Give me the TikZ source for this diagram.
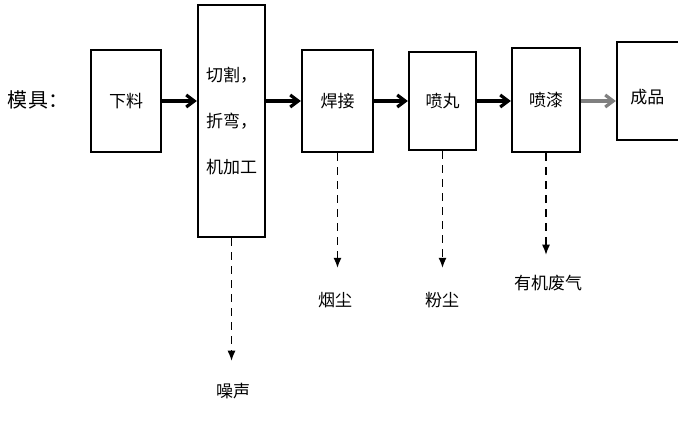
\documentclass[tikz,border=0pt]{standalone}
\usepackage{fontspec}
\newfontfamily\cjk{Noto Sans CJK SC}
\usetikzlibrary{arrows.meta}
\begin{document}
\begin{tikzpicture}[x=0.5pt,y=-0.5pt,
  proc/.style={draw,line width=1.1pt,rectangle,inner sep=0pt},
  txt/.style={font=\cjk\fontsize{8.5}{11}\selectfont,inner sep=0pt},
  flow/.style={line width=1.6pt,-{Straight Barb[length=4pt,width=6pt]}},
  emit/.style={dashed,line width=0.6pt,dash pattern=on 4pt off 3pt,-{Latex[length=5pt,width=4pt]}}]
\clip (0,0) rectangle (678,427);
\fill[white] (0,0) rectangle (678,427);
% boxes
\node[proc,minimum width=35pt,minimum height=51pt] (b1) at (126,101) {};
\node[txt] at (b1) {下料};
\node[proc,minimum width=33.5pt,minimum height=116pt] (b2) at (231.5,121) {};
\node[txt,align=center] at (b2) {切割，\\[12pt]折弯，\\[12pt]机加工};
\node[proc,minimum width=35.5pt,minimum height=51pt] (b3) at (337.5,101) {};
\node[txt] at (b3) {焊接};
\node[proc,minimum width=33.5pt,minimum height=49pt] (b4) at (442.5,101) {};
\node[txt] at (b4) {喷丸};
\node[proc,minimum width=34pt,minimum height=52pt] (b5) at (546,100) {};
\node[txt] at (b5) {喷漆};
\node[proc,minimum width=40pt,minimum height=49pt] (b6) at (657,91) {};
\node[txt,anchor=west] at (630,97) {成品};
% label
\node[txt,font=\cjk\fontsize{10}{12}\selectfont] (lab) at (38,100) {模具：};
% horizontal flows
\draw[flow] (b1.east) -- (b1.east -| b2.west);
\draw[flow] (b2.west |- b1.east) ++(67,0) coordinate (c2) -- (c2 -| b3.west);
\draw[flow] (b3.east) -- (b3.east -| b4.west);
\draw[flow] (b4.east) -- (b4.east -| b5.west);
\draw[flow,draw=gray] (b4.east -| b5.east) -- (b4.east -| b6.west);
% emissions
\node[txt] (e2) at (233,391) {噪声};
\node[txt] (e3) at (335,300) {烟尘};
\node[txt] (e4) at (442,300) {粉尘};
\node[txt] (e5) at (548,283) {有机废气};
\draw[emit,shorten >=11pt] (b2.south) -- (b2.south |- e2.north);
\draw[emit,shorten >=12pt] (b3.south) -- (b3.south |- e3.north);
\draw[emit,shorten >=12pt] (b4.south) -- (b4.south |- e4.north);
\draw[emit,shorten >=10pt] (b5.south) -- (b5.south |- e5.north);
\end{tikzpicture}
\end{document}
